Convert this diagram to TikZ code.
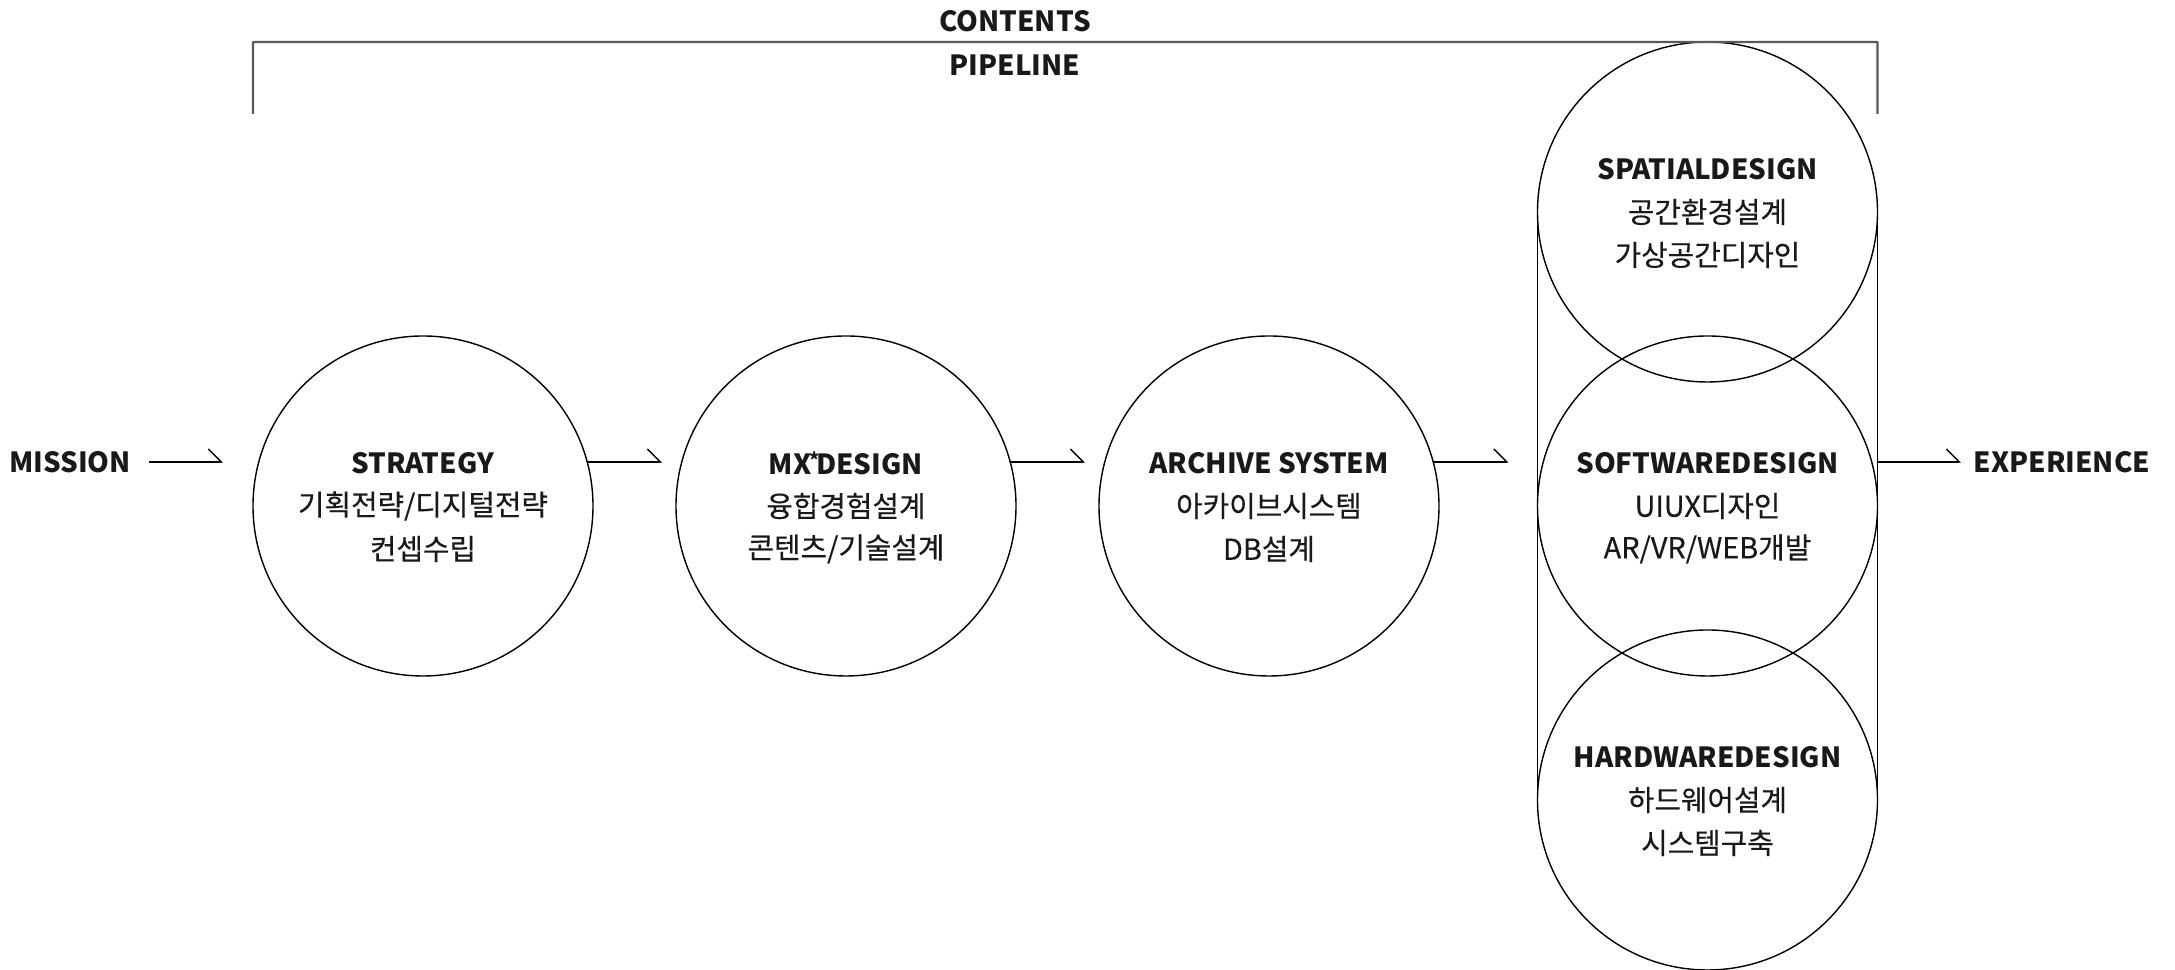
\documentclass[tikz,border=0pt]{standalone}
\usepackage{fontspec}
\setmainfont{Noto Sans CJK KR}
\newfontfamily\subfont{Noto Sans CJK KR}[FakeBold=0.35]
\usetikzlibrary{arrows.meta,positioning}
\tikzset{
	stage/.style={draw,circle,minimum size=3.4cm,inner sep=0pt,outer sep=0pt},
	head/.style={inner sep=0pt,font=\fontsize{7.9pt}{9pt}\selectfont\bfseries},
	sub/.style={inner sep=0pt,font=\subfont\fontsize{8.2pt}{9pt}\selectfont},
}
\begin{document}
\begin{tikzpicture}[>={Straight Barb[harpoon,length=1.3mm,width=2.6mm]},line width=0.4pt,line join=round,line cap=round,text=black!90]
	\useasboundingbox (0,0) rectangle (21.75,9.70);
	% circles
	\node[stage] (strategy) at (4.23,4.64) {};
	\node[stage] (mx) at (8.46,4.64) {};
	\node[stage] (archive) at (12.69,4.64) {};
	\node[stage] (spatial) at (17.075,7.58) {};
	\node[stage] (software) at (17.075,4.64) {};
	\node[stage] (hardware) at (17.075,1.70) {};
	\draw (spatial.west)--(hardware.west);
	\draw (spatial.east)--(hardware.east);
	% texts
	\node[head] (strategy-h) at ([yshift=4.3mm]strategy.center) {STRATEGY};
	\node[sub] (strategy-a) at (strategy.center) {기획전략/디지털전략};
	\node[sub] (strategy-b) at ([yshift=-4.3mm]strategy.center) {컨셉수립};
	\node[head] (mx-h) at ([yshift=4.3mm]mx.center) {MX\kern-.06em\raisebox{.25em}{\fontsize{5.5pt}{5pt}\selectfont *}\kern-.14em DESIGN};
	\node[sub] (mx-a) at (mx.center) {융합경험설계};
	\node[sub] (mx-b) at ([yshift=-4.3mm]mx.center) {콘텐츠/기술설계};
	\node[head] (archive-h) at ([yshift=4.3mm]archive.center) {ARCHIVE SYSTEM};
	\node[sub] (archive-a) at (archive.center) {아카이브시스템};
	\node[sub] (archive-b) at ([yshift=-4.3mm]archive.center) {DB설계};
	\node[head] (spatial-h) at ([yshift=4.3mm]spatial.center) {SPATIALDESIGN};
	\node[sub] (spatial-a) at (spatial.center) {공간환경설계};
	\node[sub] (spatial-b) at ([yshift=-4.3mm]spatial.center) {가상공간디자인};
	\node[head] (software-h) at ([yshift=4.3mm]software.center) {SOFTWAREDESIGN};
	\node[sub] (software-a) at (software.center) {UIUX디자인};
	\node[sub] (software-b) at ([yshift=-4.3mm]software.center) {AR/VR/WEB개발};
	\node[head] (hardware-h) at ([yshift=4.3mm]hardware.center) {HARDWAREDESIGN};
	\node[sub] (hardware-a) at (hardware.center) {하드웨어설계};
	\node[sub] (hardware-b) at ([yshift=-4.3mm]hardware.center) {시스템구축};
	\node[head] (mission) at (0.70,5.08) {MISSION};
	\node[head] (experience) at (20.62,5.08) {EXPERIENCE};
	\node[head] (contents) at (10.15,9.49) {CONTENTS};
	\node[head] (pipeline) at (10.15,9.05) {PIPELINE};
	% bracket
	\draw[black!65,line width=0.6pt,line cap=butt] (2.53,8.56)--(2.53,9.28)--(spatial.north-|software.east)--++(0,-0.72);
	% arrows
	\draw[->,shorten <=1.8mm,shorten >=3mm] (mission.east)--(mission.east-|strategy.west);
	\draw[->,shorten >=1.4mm] (strategy.15.35)--(strategy.15.35-|mx.west);
	\draw[->,shorten >=1.4mm] (mx.15.35)--(mx.15.35-|archive.west);
	\draw[->,shorten >=2.9mm] (archive.15.35)--(archive.15.35-|software.west);
	\draw[->,shorten >=1.2mm] (software.east|-experience.west)--(experience.west);
\end{tikzpicture}
\end{document}
